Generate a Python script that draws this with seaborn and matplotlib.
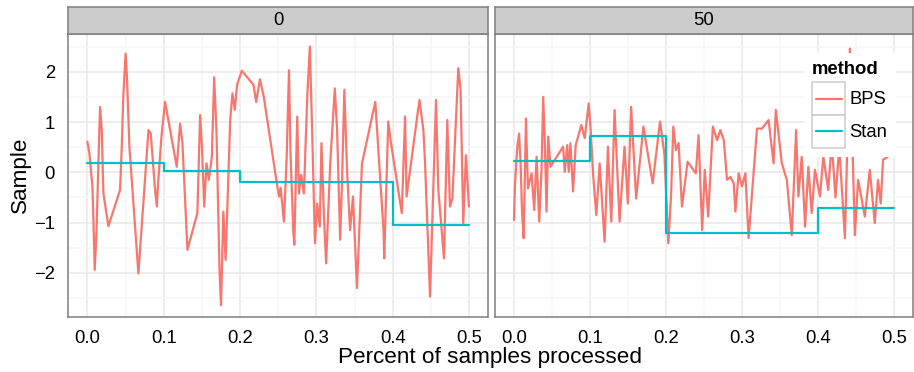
import numpy as np
import pandas as pd
import matplotlib
matplotlib.use("Agg")
import matplotlib.pyplot as plt
from matplotlib.patches import Rectangle
from matplotlib.lines import Line2D
import seaborn as sns

sns.set_theme(style="white")
plt.rcParams['font.family'] = ['Liberation Sans', 'DejaVu Sans']

panels = ["0", "50"]
methods = ["BPS", "Stan"]
colors = {"BPS": "#F8766D", "Stan": "#00BFC4"}
x_ticks = [0.0, 0.1, 0.2, 0.3, 0.4, 0.5]
y_ticks = [-2, -1, 0, 1, 2]

# BPS trajectory, panel "0": (percent processed, sample)
bps_0 = [(0, 0.61), (0.0026, 0.38), (0.0066, -0.28), (0.008, -1.01), (0.0096, -1.94),
         (0.012, -1.15), (0.0144, 0.18), (0.0166, 1.30), (0.0188, 0.84), (0.021, -0.42),
         (0.0275, -1.07), (0.0428, -0.35), (0.045, 0.51), (0.047, 1.50), (0.050, 2.36),
         (0.052, 1.83), (0.055, 0.51), (0.0668, -2.01), (0.080, 0.84), (0.083, 0.77),
         (0.0886, -0.35), (0.091, -0.68), (0.092, -0.35), (0.097, 0.71), (0.1017, 1.40),
         (0.117, 0.11), (0.1214, 0.97), (0.1245, 0.58), (0.131, -1.54), (0.144, -0.81),
         (0.1476, 1.14), (0.150, 0.51), (0.153, -0.68), (0.156, 0.18), (0.159, -0.15),
         (0.163, 0.31), (0.166, 1.89), (0.169, 0.84), (0.173, -1.94), (0.175, -2.64),
         (0.178, -0.78), (0.181, -1.74), (0.187, 1.04), (0.190, 1.57), (0.193, 1.24),
         (0.196, 1.74), (0.2022, 2.02), (0.2175, 1.74), (0.221, 1.40), (0.226, 1.85),
         (0.231, 1.50), (0.2487, -0.28), (0.251, -0.48), (0.253, -0.31), (0.2574, -0.98),
         (0.261, 0.31), (0.264, 2.03), (0.266, 0.38), (0.2696, -1.15), (0.271, -1.44),
         (0.2748, 1.11), (0.277, -0.42), (0.280, -0.05), (0.2835, -0.42), (0.288, 1.54),
         (0.2913, 2.50), (0.2943, 0.84), (0.298, -1.41), (0.3009, -0.62), (0.3043, -1.08),
         (0.3065, 0.58), (0.3096, -0.81), (0.3126, -1.81), (0.318, 0.18), (0.324, 1.67),
         (0.327, 0.84), (0.331, -1.34), (0.3335, -0.15), (0.3365, 1.64), (0.340, 0.05),
         (0.344, -1.15), (0.3478, -0.48), (0.353, -2.30), (0.3596, 0.18), (0.377, 1.40),
         (0.3878, -1.15), (0.3887, -1.71), (0.394, 1.01), (0.397, 0.64), (0.4117, -0.81),
         (0.416, 1.11), (0.418, -0.48), (0.4348, 1.44), (0.440, 0.84), (0.442, 0.25),
         (0.4487, -2.47), (0.4565, 1.44), (0.4596, -0.35), (0.467, -1.71), (0.4713, 1.04),
         (0.4748, -0.68), (0.478, -0.52), (0.4857, 2.07), (0.4887, 1.64), (0.4922, -1.01),
         (0.4957, 0.34), (0.4996, -0.68)]

# BPS trajectory, panel "50"
bps_50 = [(0, -0.95), (0.0013, -0.22), (0.0044, 0.51), (0.0066, 0.77), (0.0087, 0.18),
          (0.0105, -0.75), (0.0127, -1.31), (0.0157, 1.07), (0.0183, -0.32), (0.0231, -0.02),
          (0.0266, -0.75), (0.0297, 0.31), (0.0332, -0.98), (0.0362, 0.05), (0.0384, 1.50),
          (0.0406, 0.58), (0.0428, -0.78), (0.045, 0.71), (0.048, 0.11), (0.0646, 0.51),
          (0.0668, 0.01), (0.070, 0.54), (0.072, 0.01), (0.0742, 0.58), (0.0777, -0.38),
          (0.0812, 0.54), (0.0886, 0.94), (0.093, 0.68), (0.0983, 1.37), (0.1009, 0.84),
          (0.104, -0.02), (0.1083, -0.85), (0.1127, 0.18), (0.1192, -1.38), (0.1236, 0.51),
          (0.128, -0.98), (0.1323, 1.24), (0.1389, -0.98), (0.1454, 0.51), (0.1498, -0.62),
          (0.1541, 1.30), (0.1607, -0.52), (0.1703, 0.91), (0.1738, 0.58), (0.1825, -0.22),
          (0.1921, 1.01), (0.1978, 0.38), (0.2013, -0.78), (0.203, -1.41), (0.2066, -0.48),
          (0.2096, 0.91), (0.2131, 0.44), (0.2166, 0.58), (0.221, -0.68), (0.2284, 0.21),
          (0.2393, -0.02), (0.2428, 0.74), (0.2476, -1.15), (0.251, 0.05), (0.2555, -0.88),
          (0.2616, 0.91), (0.2672, 0.64), (0.2716, 0.84), (0.276, 0.64), (0.2803, -0.15),
          (0.2847, -0.09), (0.2891, -0.22), (0.2913, -0.78), (0.2956, -0.02), (0.300, -0.28),
          (0.3044, -0.02), (0.3087, -1.31), (0.3197, 0.87), (0.3262, 0.87), (0.335, 1.04),
          (0.3415, 0.18), (0.3445, 1.24), (0.3524, 0.18), (0.359, -0.15), (0.3655, -1.25),
          (0.3712, 0.84), (0.3742, -0.48), (0.3786, 0.31), (0.383, -1.08), (0.3873, 0.11),
          (0.3917, -0.81), (0.396, 0.05), (0.4026, -0.48), (0.407, 0.31), (0.4135, -0.35),
          (0.418, 0.60), (0.423, -0.50), (0.428, 0.50), (0.4354, -1.31), (0.4419, 2.46),
          (0.4485, -1.25), (0.4528, -0.15), (0.4616, -0.88), (0.4681, 0.05), (0.4747, -1.01),
          (0.479, -0.15), (0.4825, -0.62), (0.4856, 0.25), (0.4987, 0.38)]

# Stan draws (step function)
stan_x = [0.0, 0.1, 0.2, 0.3, 0.4, 0.5]
stan_0 = [0.18, 0.03, -0.19, -0.19, -1.05, -1.05]
stan_50 = [0.225, 0.72, -1.20, -1.20, -0.70, -0.70]

rows = []
for p, bps, stan in [("0", bps_0, stan_0), ("50", bps_50, stan_50)]:
    for x, y in bps:
        rows.append({"panel": p, "method": "BPS", "x": x, "y": y})
    for x, y in zip(stan_x, stan):
        rows.append({"panel": p, "method": "Stan", "x": x, "y": y})
df = pd.DataFrame(rows)

W, H = 914, 372
fig = plt.figure(figsize=(W / 100, H / 100), dpi=100)

def fx(px):
    return px / W

def fy(py):
    return 1 - py / H

panel_top, panel_bot, strip_top = 34, 316.7, 6.7
boxes = [(68.3, 488.3), (495, 913)]
border = "#7F7F7F"
fs = 13.3
lw_data = 1.6

for i, p in enumerate(panels):
    l, r = boxes[i]
    ax = fig.add_axes([fx(l), fy(panel_bot), fx(r - l), (panel_bot - panel_top) / H])
    sub = df[df.panel == p]
    sns.lineplot(data=sub[sub.method == "BPS"], x="x", y="y", color=colors["BPS"],
                 estimator=None, sort=False, lw=lw_data, ax=ax, legend=False, zorder=3)
    sns.lineplot(data=sub[sub.method == "Stan"], x="x", y="y", color=colors["Stan"],
                 estimator=None, sort=False, lw=lw_data, ax=ax, legend=False,
                 drawstyle="steps-post", zorder=4)
    ax.set_xlim(-0.025, 0.525)
    ax.set_ylim(-2.87, 2.75)
    ax.set_xticks(x_ticks)
    ax.set_xticks([0.05, 0.15, 0.25, 0.35, 0.45], minor=True)
    ax.set_yticks(y_ticks)
    ax.set_yticks([-2.5, -1.5, -0.5, 0.5, 1.5, 2.5], minor=True)
    ax.grid(True, which="major", color="#E8E8E8", lw=1.1)
    ax.grid(True, which="minor", color="#F6F6F6", lw=1.1)
    ax.set_axisbelow(True)
    ax.set_facecolor("white")
    for s in ax.spines.values():
        s.set_color(border)
        s.set_linewidth(1.1)
    ax.set_xlabel("")
    ax.set_ylabel("")
    ax.tick_params(axis="both", which="major", length=5, width=1.1, color="#333333",
                   labelsize=fs, labelcolor="black", pad=4.5)
    ax.tick_params(axis="both", which="minor", length=0)
    ax.set_xticklabels([f"{t:.1f}" for t in x_ticks])
    if i == 0:
        ax.set_yticklabels([f"{t:d}".replace("-", "\u2212") for t in y_ticks])
    else:
        ax.tick_params(axis="y", which="both", left=False, labelleft=False)

    sax = fig.add_axes([fx(l), fy(panel_top), fx(r - l), (panel_top - strip_top) / H])
    sax.set_facecolor("#CCCCCC")
    sax.set_xticks([])
    sax.set_yticks([])
    for s in sax.spines.values():
        s.set_color(border)
        s.set_linewidth(1.1)
    sax.text(0.5, 0.5, p, ha="center", va="center", fontsize=fs, color="black",
             transform=sax.transAxes)

# Axis titles
fig.text(fx(490.5), fy(357), "Percent of samples processed", ha="center", va="center",
         fontsize=16.2, color="black")
fig.text(fx(20), fy(175), "Sample", ha="center", va="center", rotation=90,
         fontsize=16.2, color="black")

# Legend (ggplot style, inside right panel)
fig.patches.append(Rectangle((fx(805), fy(157)), fx(896 - 805), (157 - 53) / H,
                             transform=fig.transFigure, facecolor="white",
                             edgecolor="none", zorder=5))
fig.text(fx(812), fy(69), "method", ha="left", va="center", fontsize=fs,
         fontweight="bold", color="black", zorder=6)
for k, m in enumerate(methods):
    top = 82.3 + k * 32.7
    fig.patches.append(Rectangle((fx(812.3), fy(top + 32.7)), fx(32.7), 32.7 / H,
                                 transform=fig.transFigure, facecolor="white",
                                 edgecolor="#CCCCCC", lw=1.1, zorder=6))
    yc = top + 16.4
    fig.lines.append(Line2D([fx(815.7), fx(842.3)], [fy(yc), fy(yc)],
                            transform=fig.transFigure, color=colors[m], lw=lw_data, zorder=7))
    fig.text(fx(849.3), fy(yc + 1), m, ha="left", va="center", fontsize=fs,
             color="black", zorder=7)

fig.savefig("out.png", dpi=100, facecolor="white")
